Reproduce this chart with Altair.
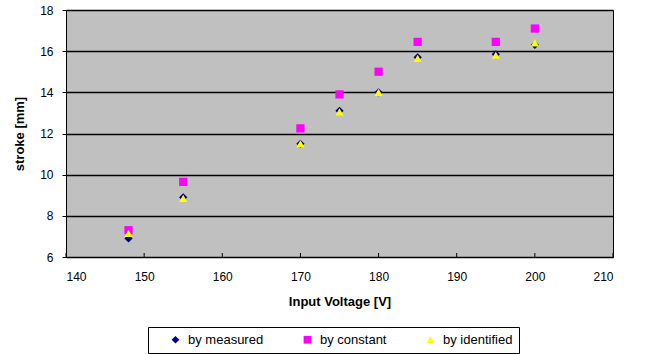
import altair as alt
import pandas as pd

# Stroke versus input voltage for three estimation methods
voltage = [148, 155, 170, 175, 180, 185, 195, 200]
measured = [6.9, 8.9, 11.5, 13.1, 14.0, 15.7, 15.85, 16.3]
constant = [7.3, 9.65, 12.25, 13.9, 15.0, 16.45, 16.45, 17.1]
identified = [7.15, 8.85, 11.5, 13.05, 14.0, 15.65, 15.8, 16.4]

series_names = ["by measured", "by constant", "by identified"]
series_colors = ["#000080", "#ff00ff", "#ffff00"]
series_shapes = ["diamond", "square", "triangle-up"]

x_ticks = [140, 150, 160, 170, 180, 190, 200, 210]
y_ticks = [6, 8, 10, 12, 14, 16, 18]

FONT = "Liberation Sans"

rows = []
for rank, (name, values) in enumerate(zip(series_names, [measured, constant, identified])):
    for v, s in zip(voltage, values):
        rows.append({"voltage": v, "stroke": s, "series": name, "rank": rank})
df = pd.DataFrame(rows)

legend = alt.Legend(
    title=None,
    orient="none",
    legendX=82,
    legendY=317,
    direction="horizontal",
    columns=3,
    columnPadding=22,
    padding=6,
    symbolOffset=15,
    fillColor="white",
    strokeColor="black",
    symbolSize=60,
    symbolStrokeWidth=0,
    labelFont=FONT,
    labelFontSize=13,
    labelColor="black",
    labelOffset=6,
)

x_axis = alt.Axis(
    values=x_ticks,
    title="Input Voltage [V]",
    ticks=False,
    domain=False,
    grid=False,
    labelPadding=14,
    titlePadding=13,
)
x_scale = alt.Scale(domain=[140, 210], nice=False, zero=False)

points = alt.Chart(df).mark_point(filled=True, size=68, opacity=1, strokeWidth=0).encode(
    x=alt.X("voltage:Q", scale=x_scale, axis=x_axis),
    y=alt.Y(
        "stroke:Q",
        scale=alt.Scale(domain=[6, 18], nice=False, zero=False),
        axis=alt.Axis(
            values=y_ticks,
            title="stroke [mm]",
            domain=False,
            grid=True,
            gridColor="black",
            gridWidth=1.3,
            gridOpacity=1,
            tickSize=4,
            tickColor="black",
            labelPadding=9,
            titlePadding=13,
        ),
    ),
    color=alt.Color(
        "series:N",
        scale=alt.Scale(domain=series_names, range=series_colors),
        legend=legend,
    ),
    shape=alt.Shape(
        "series:N",
        scale=alt.Scale(domain=series_names, range=series_shapes),
        legend=legend,
    ),
    order=alt.Order("rank:Q"),
)

# small inward tick marks along the bottom edge
tick_marks = alt.Chart(pd.DataFrame({"voltage": x_ticks})).mark_rule(
    color="black", strokeWidth=1
).encode(
    x=alt.X("voltage:Q", scale=x_scale, axis=x_axis),
    y=alt.value(247),
    y2=alt.value(243),
)

chart = (
    alt.layer(tick_marks, points)
    .properties(
        width=547,
        height=247,
        padding={"left": 66, "top": 10, "right": 32, "bottom": 97},
        autosize=alt.AutoSizeParams(type="none"),
        background="white",
    )
    .configure_view(fill="#c0c0c0", stroke="black", strokeWidth=1)
    .configure_legend(strokeWidth=1)
    .configure_axis(
        labelFont=FONT,
        labelFontSize=12,
        labelColor="black",
        titleFont=FONT,
        titleFontSize=13,
        titleFontWeight="bold",
        titleColor="black",
    )
)

chart.save("out.html", embed_options={"renderer": "svg", "actions": False})
